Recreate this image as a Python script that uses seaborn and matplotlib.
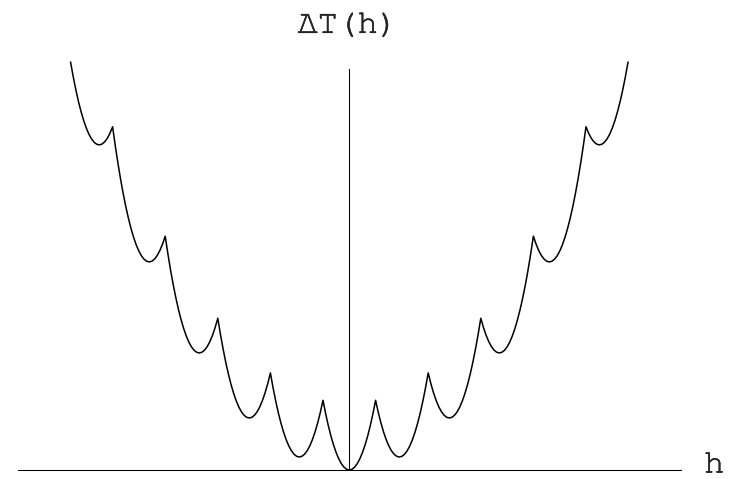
import matplotlib
matplotlib.use("Agg")
import matplotlib.pyplot as plt
import matplotlib.patheffects as pe
import numpy as np
import seaborn as sns

# h sampled every 0.05 on the right half; the curve is mirror symmetric
h_right = np.linspace(0.0, 5.3, 107)
dT_right = [
    0.000, 0.013, 0.053, 0.119, 0.212, 0.331, 0.477, 0.649, 0.848, 1.073,
    1.325, 1.099, 0.900, 0.727, 0.581, 0.461, 0.368, 0.301, 0.261, 0.247,
    0.260, 0.299, 0.365, 0.457, 0.576, 0.721, 0.893, 1.091, 1.316, 1.567,
    1.845, 1.645, 1.472, 1.325, 1.205, 1.111, 1.044, 1.003, 0.989, 1.001,
    1.040, 1.105, 1.197, 1.315, 1.460, 1.631, 1.829, 2.053, 2.304, 2.581,
    2.885, 2.711, 2.564, 2.443, 2.349, 2.281, 2.240, 2.225, 2.237, 2.275,
    2.340, 2.431, 2.549, 2.693, 2.864, 3.061, 3.285, 3.535, 3.812, 4.115,
    4.445, 4.297, 4.176, 4.081, 4.013, 3.971, 3.956, 3.967, 4.005, 4.069,
    4.160, 4.277, 4.421, 4.591, 4.788, 5.011, 5.261, 5.537, 5.840, 6.169,
    6.525, 6.403, 6.308, 6.239, 6.197, 6.181, 6.192, 6.229, 6.293, 6.383,
    6.500, 6.643, 6.813, 7.009, 7.232, 7.481, 7.757,
]

x_label = "h"
y_label = "\u0394T(h)"

dT_right = np.array(dT_right)
h = np.concatenate([-h_right[::-1], h_right[1:]])
dT = np.concatenate([dT_right[::-1], dT_right[1:]])

sns.set_style("white")
plt.rcParams["font.family"] = ["FreeMono", "DejaVu Sans Mono"]

fig = plt.figure(figsize=(7.32, 4.79), dpi=100)
ax = fig.add_axes([0, 0, 1, 1])

sns.lineplot(x=h, y=dT, sort=False, estimator=None, color="black",
             linewidth=1.1, ax=ax)

ax.set_xlim(-6.641, 7.276)
ax.set_ylim(-0.171, 8.935)

# axes crossing at the origin, like a Mathematica plot
for side in ["top", "right"]:
    ax.spines[side].set_visible(False)
ax.spines["bottom"].set_position(("data", 0))
ax.spines["left"].set_position(("data", 0))
ax.spines["bottom"].set_bounds(-6.3, 6.3)
ax.spines["left"].set_bounds(0, 7.62)
for side in ["bottom", "left"]:
    ax.spines[side].set_color("black")
    ax.spines[side].set_linewidth(0.75)
ax.set_xticks([])
ax.set_yticks([])
ax.patch.set_alpha(0)

# FreeMono is a little thin next to the Courier of the original
thick = [pe.withStroke(linewidth=0.3, foreground="black")]
ax.text(-0.03, 8.31, y_label, ha="center", va="baseline", fontsize=24,
        path_effects=thick)
ax.text(6.94, -0.05, x_label, ha="center", va="baseline", fontsize=24,
        path_effects=thick)

fig.savefig("out.png", dpi=100, facecolor="white")
